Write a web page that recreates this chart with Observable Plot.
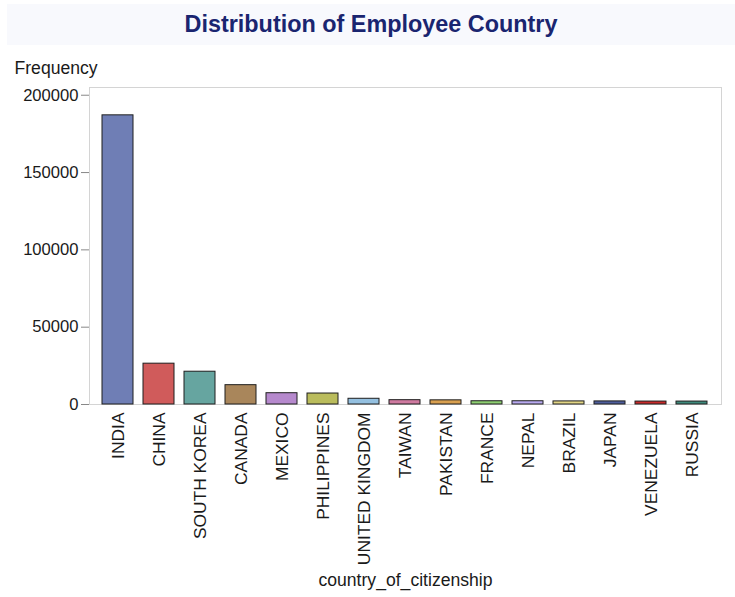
<!DOCTYPE html>
<html>
<head>
<meta charset="utf-8">
<script src="https://cdn.jsdelivr.net/npm/d3@7"></script>
<script src="https://cdn.jsdelivr.net/npm/@observablehq/plot@0.6"></script>
<style>
  html, body { margin: 0; padding: 0; background: #fff; }
  #wrap { position: relative; width: 735px; height: 597px; }
  #title { position: absolute; left: 7px; top: 4px; width: 728px; height: 41px; background: #f8f9fd;
    font-family: "Liberation Sans", Arial, sans-serif; font-weight: bold; font-size: 23.4px; color: #1a2570;
    display: flex; align-items: center; justify-content: center; }
  #chart { position: absolute; left: 0; top: 0; }
</style>
</head>
<body>
<div id="wrap">
  <div id="chart"></div>
  <div id="title">Distribution of Employee Country</div>
</div>
<script>
const countries = ["INDIA","CHINA","SOUTH KOREA","CANADA","MEXICO","PHILIPPINES","UNITED KINGDOM","TAIWAN","PAKISTAN","FRANCE","NEPAL","BRAZIL","JAPAN","VENEZUELA","RUSSIA"];
const frequencies = [187000, 26400, 21200, 12500, 7300, 7100, 3700, 2800, 2700, 2100, 2100, 2000, 2000, 1900, 1900];
const colors = ["#6f7eb5","#d05b5b","#66a5a0","#a9865b","#b689cd","#babc5c","#94c0e0","#cf7aa0","#d9a050","#8ecf72","#b9aaf0","#e2d585","#4e5e9c","#c82a2a","#3e8a7c"];
const yTicks = [0, 50000, 100000, 150000, 200000];
const yLabel = "Frequency";
const xLabel = "country_of_citizenship";

const data = countries.map((c, i) => ({country: c, count: frequencies[i]}));

const chart = Plot.plot({
  width: 735,
  height: 597,
  marginLeft: 89,
  marginRight: 14,
  marginTop: 87,
  marginBottom: 193,
  style: {fontFamily: "'Liberation Sans', Arial, sans-serif", fontSize: "16px", color: "#1a1a1a", background: "transparent"},
  x: {domain: countries, paddingInner: 0.236, paddingOuter: 0.267, label: null},
  y: {domain: [0, 205000], label: null},
  color: {domain: countries, range: colors},
  marks: [
    Plot.frame({stroke: "#d4d4d4"}),
    Plot.barY(data, {x: "country", y: "count", fill: "country", stroke: "#1e1e1e", strokeWidth: 1}),
    Plot.axisY({ticks: yTicks, tickFormat: d => String(d), tickSize: 8, tickPadding: 3, stroke: "#888", fill: "#1a1a1a", fontSize: 16.6, label: null}),
    Plot.axisX({tickRotate: -90, tickSize: 0, tickPadding: 8, fill: "#1a1a1a", fontSize: 17.4, label: null}),
    Plot.text([yLabel], {frameAnchor: "top-left", text: d => d, dx: -75, dy: -19, lineAnchor: "middle", textAnchor: "start", fontSize: 17.6, fill: "#1a1a1a"}),
    Plot.text([xLabel], {frameAnchor: "bottom", text: d => d, dy: 176, lineAnchor: "middle", fontSize: 17.6, fill: "#1a1a1a"})
  ]
});
document.getElementById("chart").appendChild(chart);
</script>
</body>
</html>
